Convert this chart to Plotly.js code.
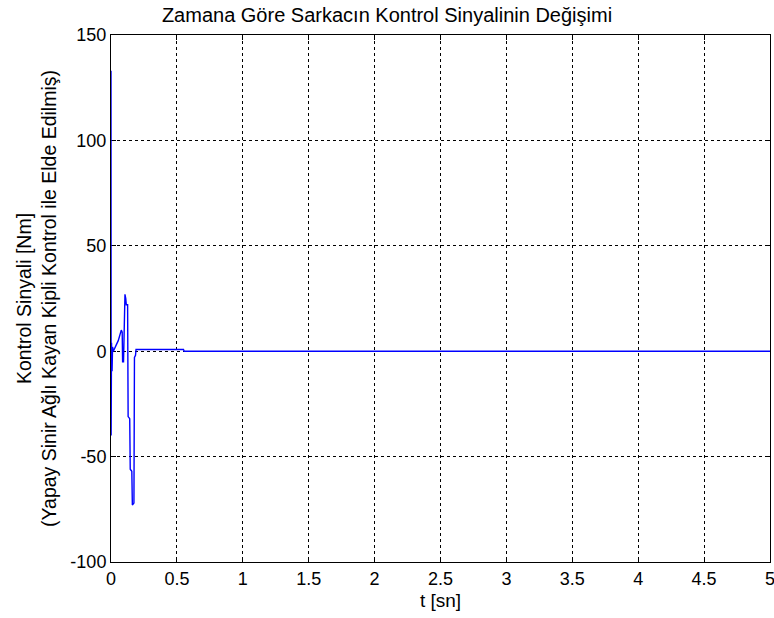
<!DOCTYPE html>
<html>
<head>
<meta charset="utf-8">
<script src="https://cdn.plot.ly/plotly-3.0.1.min.js"></script>
<style>html,body{margin:0;padding:0;background:#fff;}#chart{width:774px;height:618px;}</style>
</head>
<body>
<div id="chart"></div>
<script>
// time [s]
const tValues = [0, 0.001, 0.004, 0.008, 0.012, 0.018, 0.03, 0.04, 0.055, 0.065, 0.078, 0.085, 0.088, 0.095, 0.1, 0.106, 0.112, 0.116, 0.126, 0.13, 0.142, 0.146, 0.158, 0.162, 0.174, 0.178, 0.186, 0.19, 0.55, 0.555, 1, 2, 3, 4, 5];
// control signal [Nm]
const uValues = [133, -40, 4, -9.5, 2, 0, 2, 3, 5, 7, 10, 9, -5, -5, 18, 27, 25, 22, 22, -31, -32, -56, -57, -73, -72, -3, -2, 0.8, 0.8, 0, 0, 0, 0, 0, 0];

// tick labels
const xTickVals = [0, 0.5, 1, 1.5, 2, 2.5, 3, 3.5, 4, 4.5, 5];
const xTickText = ['0', '0.5', '1', '1.5', '2', '2.5', '3', '3.5', '4', '4.5', '5'];
const yTickVals = [-100, -50, 0, 50, 100, 150];
const yTickText = ['-100', '-50', '0', '50', '100', '150'];

const titleText = 'Zamana Göre Sarkacın Kontrol Sinyalinin Değişimi';
const xTitle = 't [sn]';
const yTitle = 'Kontrol Sinyali [Nm]<br>(Yapay Sinir Ağlı Kayan Kipli Kontrol ile Elde Edilmiş)';

const FONT = '"Liberation Sans Narrow", "Arial Narrow", "Liberation Sans", Arial, sans-serif';

const trace = {
  x: tValues, y: uValues, type: 'scatter', mode: 'lines',
  line: {color: '#0000ff', width: 1.4},
  cliponaxis: false,
  hoverinfo: 'skip'
};

const axisCommon = {
  showline: true, linecolor: '#000', linewidth: 1, mirror: 'ticks',
  ticks: 'inside', ticklen: 5, tickcolor: '#000', tickwidth: 1,
  showgrid: true, gridcolor: '#000', gridwidth: 1, griddash: '3px,3px',
  zeroline: false, layer: 'below traces', ticklabeloverflow: 'allow',
  tickfont: {family: FONT, size: 18, color: '#000'}
};

const layout = {
  width: 774, height: 618,
  margin: {l: 111, r: 4, t: 35, b: 56},
  paper_bgcolor: '#fff', plot_bgcolor: '#fff',
  showlegend: false,
  title: {text: titleText, x: 0.5, xanchor: 'center', y: 0.975, yanchor: 'middle',
          font: {family: FONT, size: 20, color: '#000'}},
  xaxis: Object.assign({}, axisCommon, {
    range: [0, 5], tickmode: 'array', tickvals: xTickVals, ticktext: xTickText,
    title: {text: xTitle, standoff: 6, font: {family: FONT, size: 19, color: '#000'}}
  }),
  yaxis: Object.assign({}, axisCommon, {
    range: [-100, 150], tickmode: 'array', tickvals: yTickVals, ticktext: yTickText,
    title: {text: yTitle, standoff: 8, font: {family: FONT, size: 19.5, color: '#000'}}
  })
};

Plotly.newPlot('chart', [trace], layout, {displayModeBar: false, staticPlot: true});
</script>
</body>
</html>
